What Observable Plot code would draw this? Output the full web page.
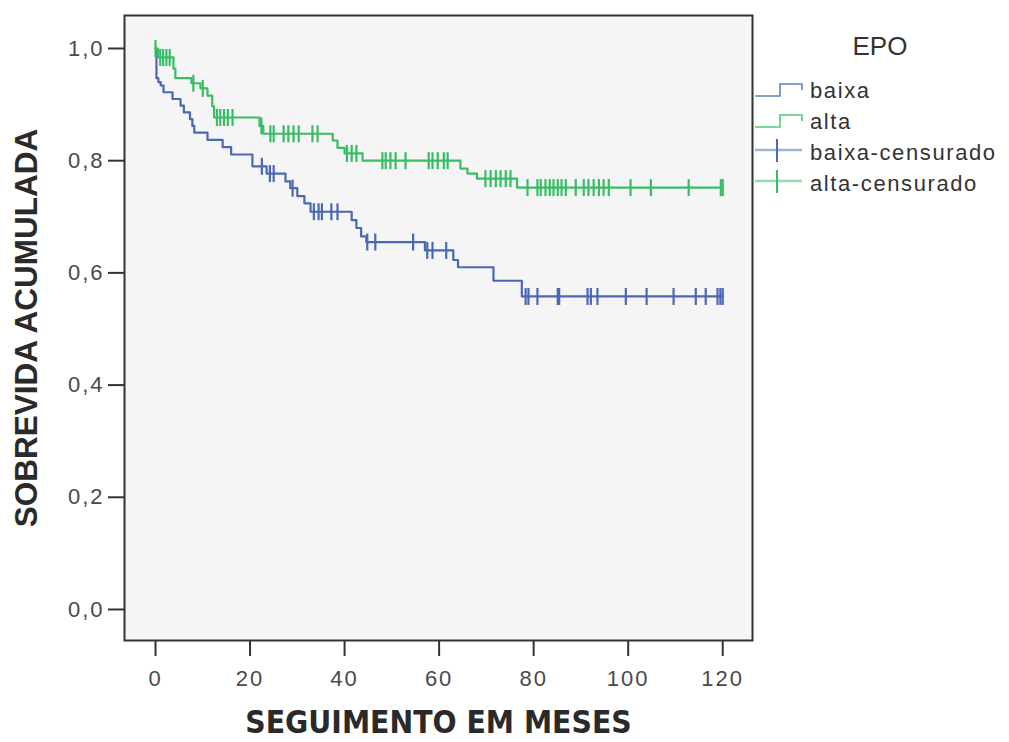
<!DOCTYPE html>
<html><head><meta charset="utf-8">
<script src="https://cdn.jsdelivr.net/npm/d3@7"></script>
<script src="https://cdn.jsdelivr.net/npm/@observablehq/plot@0.6"></script>
<style>
body{margin:0;background:#fff;}
#wrap{position:relative;width:1009px;height:742px;overflow:hidden;}
#wrap svg text{font-family:"Liberation Sans",Arial,sans-serif;}
g[aria-label="x-axis tick label"] text, g[aria-label="y-axis tick label"] text{font-size:22px;letter-spacing:2px;fill:#4a4a4a;}
g[aria-label="x-axis label"] text{font-family:"DejaVu Sans Condensed","DejaVu Sans",sans-serif !important;font-weight:bold;font-size:31.5px;fill:#2a2a2a;}
g[aria-label="y-axis label"] text{font-weight:bold;font-size:31.5px;fill:#2a2a2a;}
#legend{position:absolute;left:0;top:0;}
</style></head><body><div id="wrap"></div>
<script>
// ---- data ----
const groupNames = ["baixa", "alta"];
const legendTitle = "EPO";
const legendLabels = ["baixa", "alta", "baixa-censurado", "alta-censurado"];
const xTitle = "SEGUIMENTO EM MESES";
const yTitle = "SOBREVIDA ACUMULADA";
const xTicks = [0, 20, 40, 60, 80, 100, 120];
const yTicks = [0, 0.2, 0.4, 0.6, 0.8, 1.0];
const endTime = 120;

const baixaEventTimes = [0.2, 0.6, 1.1, 1.7, 3.6, 5.3, 6.0, 7.3, 7.8, 8.2, 11.0, 14.2, 16.0, 20.5, 23.5, 27.5, 28.5, 30.0, 31.5, 32.8, 41.5, 42.5, 43.5, 44.6, 57.0, 63.0, 64.0, 71.5, 77.5];
const baixaSurvival   = [0.947, 0.940, 0.934, 0.922, 0.910, 0.898, 0.886, 0.874, 0.862, 0.850, 0.837, 0.824, 0.811, 0.790, 0.777, 0.763, 0.751, 0.737, 0.724, 0.709, 0.694, 0.680, 0.665, 0.655, 0.640, 0.623, 0.610, 0.586, 0.558];
const baixaCensorTimes = [22.5, 24.2, 25.0, 29.0, 33.5, 34.5, 35.2, 37.2, 38.5, 44.8, 46.5, 54.5, 57.5, 58.6, 61.5, 78.3, 78.9, 80.8, 85.1, 85.4, 91.4, 92.1, 93.5, 99.5, 103.9, 109.6, 114.3, 116.4, 118.9, 119.5, 120];

const altaEventTimes = [0.5, 3.8, 4.2, 7.6, 9.5, 11.0, 12.0, 12.4, 22.0, 22.8, 37.5, 38.5, 40.0, 43.8, 64.5, 66.0, 68.0, 76.5];
const altaSurvival   = [0.984, 0.964, 0.947, 0.938, 0.929, 0.916, 0.897, 0.877, 0.862, 0.848, 0.836, 0.823, 0.813, 0.800, 0.786, 0.777, 0.768, 0.752];
const altaCensorTimes = [0, 1.0, 1.6, 2.3, 3.0, 8.0, 10.0, 13.0, 13.7, 14.5, 15.3, 16.3, 22.4, 24.3, 25.0, 27.1, 28.1, 29.2, 30.3, 33.2, 34.3, 40.5, 41.5, 42.5, 48.0, 48.7, 49.7, 50.8, 52.9, 57.8, 58.6, 59.7, 61.0, 61.8, 69.8, 70.9, 72.0, 73.0, 74.1, 75.1, 78.7, 80.8, 81.5, 82.5, 83.4, 84.2, 85.1, 85.9, 86.8, 88.9, 90.6, 91.6, 92.7, 93.8, 94.8, 95.9, 100.5, 104.8, 112.8, 119.6, 120];

const colors = ["#4a68b4", "#38bd66"];

// ---- build tables ----
function curve(name, times, surv) {
  const rows = [{group: name, t: 0, s: 1}];
  times.forEach((t, i) => rows.push({group: name, t, s: surv[i]}));
  rows.push({group: name, t: endTime, s: surv[surv.length - 1]});
  return rows;
}
function survAt(times, surv, t) {
  let s = 1;
  for (let i = 0; i < times.length; i++) if (times[i] <= t) s = surv[i];
  return s;
}
const lines = [
  ...curve("baixa", baixaEventTimes, baixaSurvival),
  ...curve("alta", altaEventTimes, altaSurvival)
];
const censors = [
  ...baixaCensorTimes.map(t => ({group: "baixa", t, s: survAt(baixaEventTimes, baixaSurvival, t)})),
  ...altaCensorTimes.map(t => ({group: "alta", t, s: survAt(altaEventTimes, altaSurvival, t)}))
];

const vline = {draw(ctx, size) { const h = Math.sqrt(size / Math.PI); ctx.moveTo(0, -h); ctx.lineTo(0, h); }};
const fmt = d => d.toFixed(1).replace(".", ",");

const chart = Plot.plot({
  width: 1009, height: 742,
  marginLeft: 124, marginRight: 257, marginTop: 15, marginBottom: 102,
  style: {background: "#fff", overflow: "visible"},
  x: {domain: [-6.56, 126.3]},
  y: {domain: [-0.0553, 1.0588]},
  color: {domain: groupNames, range: colors},
  marks: [
    Plot.frame({fill: "#f5f5f5"}),
    Plot.line(lines, {x: "t", y: "s", z: "group", stroke: "group", curve: "step-after", strokeWidth: 2.2}),
    Plot.dot(censors, {x: "t", y: "s", stroke: "group", symbol: vline, r: 8.5, strokeWidth: 2.2}),
    Plot.axisX({ticks: xTicks, tickSize: 16, tickPadding: 14, stroke: "#333", strokeWidth: 2, tickFormat: d => String(d),
      label: xTitle, labelAnchor: "center", labelArrow: "none", labelOffset: 92}),
    Plot.axisY({ticks: yTicks, tickSize: 16, tickPadding: 4, stroke: "#333", strokeWidth: 2, tickFormat: fmt,
      label: yTitle, labelAnchor: "center", labelArrow: "none", labelOffset: 110}),
    Plot.frame({stroke: "#333", strokeWidth: 2})
  ]
});
const wrap = document.getElementById("wrap");
wrap.appendChild(chart);

// ---- legend ----
const leg = d3.select(wrap).append("svg").attr("id", "legend").attr("width", 1009).attr("height", 742);
leg.append("text").attr("x", 880).attr("y", 55).attr("text-anchor", "middle")
  .style("font-size", "26px").style("fill", "#333").text(legendTitle);
const rowBase = [98, 129, 160, 191];
legendLabels.forEach((lab, i) => {
  const b = rowBase[i];
  const c = colors[i % 2];
  if (i < 2) {
    leg.append("path").attr("d", `M755,${b - 2}H780V${b - 14}H802V${b - 8}`)
      .attr("fill", "none").attr("stroke", c).attr("stroke-width", 1.6).attr("opacity", 0.85);
  } else {
    leg.append("path").attr("d", `M755,${b - 10}H802`).attr("stroke", c).attr("stroke-width", 2.5).attr("opacity", 0.5);
    leg.append("path").attr("d", `M777,${b - 21}V${b + 2}`).attr("stroke", c).attr("stroke-width", 2);
  }
  leg.append("text").attr("x", 810).attr("y", b).style("font-size", "22px").style("letter-spacing", "1.6px")
    .style("fill", "#333").text(lab);
});
</script></body></html>
